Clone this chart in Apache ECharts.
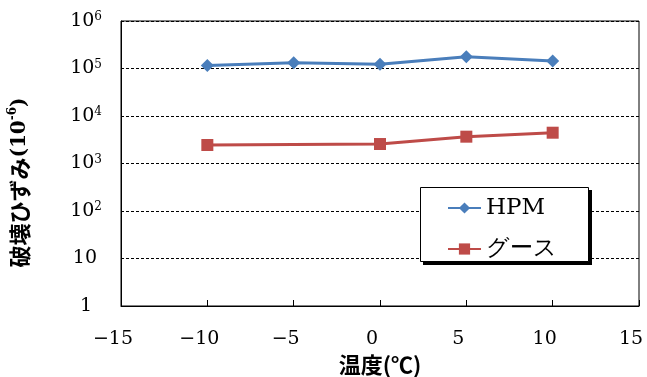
<!DOCTYPE html>
<html>
<head>
<meta charset="utf-8">
<script src="https://cdn.jsdelivr.net/npm/echarts@6/dist/echarts.min.js"></script>
<style>
  html, body { margin: 0; padding: 0; background: #fff; }
  #chart { width: 647px; height: 377px; }
</style>
</head>
<body>
<div id="chart"></div>
<script>
// Temperature (°C) for each measurement
const hpmTemps = [-10, -5, 0, 5, 10];
const gooseTemps = [-10, 0, 5, 10];
// Fracture strain (×10^-6)
const hpmStrain = [115000, 132000, 123000, 177000, 144000];
const gooseStrain = [2450, 2570, 3670, 4450];
const seriesNames = ['HPM', 'グース'];

const serif = '"DejaVu Serif", "Liberation Serif", serif';
const cjk = '"Noto Sans CJK JP", sans-serif';

function pairs(xs, ys) { return xs.map((x, i) => [x, ys[i]]); }

const chart = echarts.init(document.getElementById('chart'), null, { renderer: 'canvas' });
chart.setOption({
  animation: false,
  backgroundColor: '#fff',
  grid: {
    left: 121, right: 8, top: 21, bottom: 71,
    outerBoundsMode: 'none', containLabel: false,
    show: true, borderColor: '#000', borderWidth: 1, backgroundColor: 'transparent'
  },
  // legend frame with a hard drop shadow
  graphic: [
    { type: 'rect', z: 3, shape: { x: 423, y: 190, width: 169, height: 75 }, style: { fill: '#000' } },
    { type: 'rect', z: 3, shape: { x: 420.5, y: 187.5, width: 168, height: 74 }, style: { fill: '#fff', stroke: '#000', lineWidth: 1 } }
  ],
  xAxis: {
    type: 'value', min: -15, max: 15, interval: 5,
    axisLine: { show: true, onZero: false, lineStyle: { color: '#000', width: 1 } },
    axisTick: { show: true, inside: true, length: 6, lineStyle: { color: '#000' } },
    splitLine: { show: false },
    axisLabel: {
      color: '#000', fontFamily: serif, fontSize: 19, margin: 24,
      padding: [0, 16, 0, 0],
      formatter: v => (v < 0 ? '\u2212' + Math.abs(v) : String(v))
    },
    name: '温度(℃)', nameLocation: 'middle', nameGap: 44,
    nameTextStyle: { color: '#000', fontFamily: cjk, fontWeight: 'bold', fontSize: 22 }
  },
  yAxis: {
    type: 'log', logBase: 10, min: 1, max: 1000000,
    axisLine: { show: true, onZero: false, lineStyle: { color: '#000', width: 1 } },
    axisTick: { show: false },
    minorTick: { show: false },
    splitLine: { show: true, lineStyle: { color: '#000', type: [3, 2], width: 1 } },
    axisLabel: {
      color: '#000', fontFamily: serif, fontSize: 19, margin: 19,
      formatter: function (v) {
        const e = Math.round(Math.log10(v));
        if (e === 0) return '{one|1}';
        if (e === 1) return '{ten|10}';
        return '{b|10}{s|' + e + '}';
      },
      rich: {
        one: { fontFamily: serif, fontSize: 19, color: '#000', lineHeight: 24, padding: [0, 10, 0, 0] },
        ten: { fontFamily: serif, fontSize: 19, color: '#000', lineHeight: 24, padding: [0, 5, 0, 0] },
        b: { fontFamily: serif, fontSize: 19, color: '#000', lineHeight: 24 },
        s: { fontFamily: serif, fontSize: 12, color: '#000', lineHeight: 14, verticalAlign: 'top', padding: [2, 0, 0, 0] }
      }
    },
    name: '{c|破壊ひずみ}{p|(10}{s|-6}{p|)}', nameLocation: 'middle', nameGap: 88, nameRotate: 90,
    nameTextStyle: {
      rich: {
        c: { fontFamily: cjk, fontWeight: 'bold', fontSize: 22, color: '#000', lineHeight: 26 },
        p: { fontFamily: serif, fontWeight: 'bold', fontSize: 20, color: '#000', lineHeight: 26 },
        s: { fontFamily: serif, fontWeight: 'bold', fontSize: 12, color: '#000', lineHeight: 12, verticalAlign: 'top' }
      },
      padding: [0, 38, 0, 0]
    }
  },
  legend: {
    orient: 'vertical', left: 447, top: 195, z: 4,
    backgroundColor: 'transparent', borderWidth: 0,
    padding: 0, itemGap: 15, itemWidth: 33, itemHeight: 14,
    textStyle: { color: '#000', fontFamily: serif, fontSize: 23, lineHeight: 26 },
    data: seriesNames
  },
  series: [
    {
      name: seriesNames[0], type: 'line', data: pairs(hpmTemps, hpmStrain),
      symbol: 'diamond', symbolSize: 13,
      lineStyle: { color: '#4a7ebb', width: 3 },
      itemStyle: { color: '#4a7ebb' }
    },
    {
      name: seriesNames[1], type: 'line', data: pairs(gooseTemps, gooseStrain),
      symbol: 'rect', symbolSize: 12,
      lineStyle: { color: '#be4b48', width: 3 },
      itemStyle: { color: '#be4b48' }
    }
  ]
});
</script>
</body>
</html>
